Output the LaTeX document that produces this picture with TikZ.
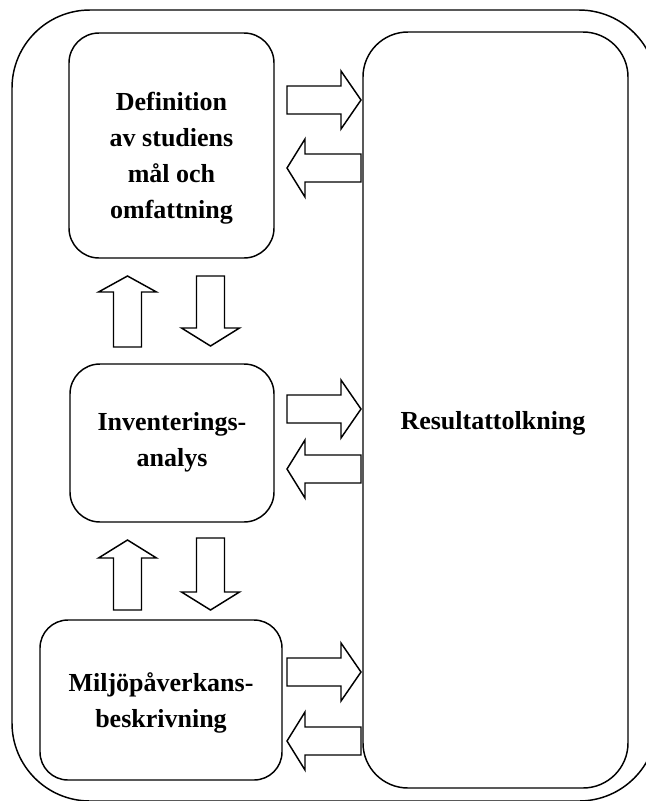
\documentclass[tikz,border=0pt]{standalone}
\usepackage{fontspec}
\setmainfont{Liberation Serif}
\usetikzlibrary{fit}
\newcommand\HArrow[4]{%
  \draw[barrow] (#1,#4-14) -- (#2,#4-14) -- (#2,#4-29) -- (#3,#4) -- (#2,#4+29) -- (#2,#4+14) -- (#1,#4+14) -- cycle;}
\newcommand\VArrow[4]{%
  \draw[barrow] (#4-14,#1) -- (#4-14,#2) -- (#4-29,#2) -- (#4,#3) -- (#4+29,#2) -- (#4+14,#2) -- (#4+14,#1) -- cycle;}
\begin{document}
\begin{tikzpicture}[x=0.75pt,y=-0.75pt,
  box/.style={draw, line width=1.1pt, inner sep=0pt},
  lbl/.style={font=\bfseries\fontsize{19.5}{27}\selectfont, align=center, inner sep=0pt},
  barrow/.style={draw, line width=1.1pt, line join=miter, fill=white}]
\useasboundingbox (0,0) rectangle (646,801);
\node[box, rounded corners=58.5pt, fit={(12,10) (657,801)}] (outer) {};
\node[box, rounded corners=22.5pt, fit={(69,33) (274,258)}] (def) {};
\node[box, rounded corners=22.5pt, fit={(70,364) (274,522)}] (inv) {};
\node[box, rounded corners=21pt, fit={(40,620) (282,780)}] (mil) {};
\node[box, rounded corners=33.75pt, fit={(363,32) (628,788)}] (res) {};
\node[lbl] (deftxt) at (171.5,158) {Definition\\av studiens\\mål och\\omfattning};
\node[lbl] (invtxt) at (172,442) {Inventerings-\\analys};
\node[lbl] (miltxt) at (161,703) {Miljöpåverkans-\\beskrivning};
\node[lbl] (restxt) at (493,423) {Resultattolkning};
% horizontal arrows
\HArrow{287}{341}{361}{100}
\HArrow{361}{305}{287}{168}
\HArrow{287}{341}{361}{409}
\HArrow{361}{305}{287}{469}
\HArrow{287}{341}{361}{672}
\HArrow{361}{305}{287}{741}
% vertical arrows
\VArrow{347}{292}{276}{127.5}
\VArrow{276}{328}{346}{210.5}
\VArrow{610}{558}{540}{127.5}
\VArrow{538}{592}{610}{210.5}
\end{tikzpicture}
\end{document}
